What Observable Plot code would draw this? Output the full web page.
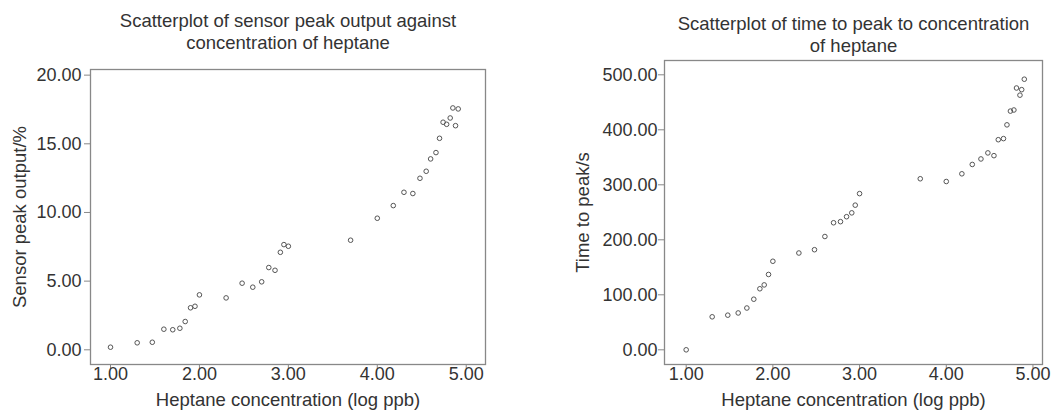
<!DOCTYPE html>
<html>
<head>
<meta charset="utf-8">
<script src="https://cdn.jsdelivr.net/npm/d3@7"></script>
<script src="https://cdn.jsdelivr.net/npm/@observablehq/plot@0.6"></script>
<style>
  html, body { margin: 0; padding: 0; background: #fff; }
  #wrap { position: relative; width: 1052px; height: 411px; overflow: hidden; }
  #wrap > svg { position: absolute; top: 0; }
  #wrap svg g[aria-label$="tick label"] { font-size: 18px; }
</style>
</head>
<body>
<div id="wrap"></div>
<script>
// Heptane concentration (log ppb) — shared x values
const concentration = [1.00, 1.30, 1.47, 1.60, 1.70, 1.78, 1.84, 1.90, 1.95, 2.00,
  2.30, 2.48, 2.60, 2.70, 2.78, 2.85, 2.91, 2.95, 3.00, 3.70,
  4.00, 4.18, 4.30, 4.40, 4.48, 4.55, 4.60, 4.66, 4.70, 4.74,
  4.78, 4.82, 4.85, 4.88, 4.91];
// Sensor peak output (%)
const peakOutput = [0.19, 0.51, 0.55, 1.50, 1.46, 1.57, 2.06, 3.06, 3.17, 4.00,
  3.78, 4.85, 4.56, 4.95, 5.99, 5.79, 7.10, 7.66, 7.54, 7.98,
  9.58, 10.50, 11.47, 11.38, 12.49, 13.00, 13.90, 14.36, 15.40, 16.57,
  16.42, 16.88, 17.61, 16.32, 17.54];

const concentration2 = [1.00, 1.30, 1.48, 1.60, 1.70, 1.78, 1.85, 1.90, 1.95, 2.00,
  2.30, 2.48, 2.60, 2.70, 2.78, 2.85, 2.91, 2.95, 3.00, 3.70,
  4.00, 4.18, 4.30, 4.40, 4.48, 4.55, 4.60, 4.66, 4.70, 4.74,
  4.78, 4.81, 4.85, 4.87, 4.90];
// Time to peak (s)
const timeToPeak = [0, 60, 63, 67, 76, 92, 111, 118, 137, 161,
  176, 182, 206, 231, 233, 242, 249, 263, 284, 311,
  306, 320, 337, 347, 358, 353, 382, 384, 409, 434,
  436, 476, 463, 473, 492];

const xTicks = [1, 2, 3, 4, 5];
const yTicks1 = [0, 5, 10, 15, 20];
const yTicks2 = [0, 100, 200, 300, 400, 500];

const title1 = "Scatterplot of sensor peak output against\nconcentration of heptane";
const title2 = "Scatterplot of time to peak to concentration\nof heptane";
const xLabel = "Heptane concentration (log ppb)";
const yLabel1 = "Sensor peak output/%";
const yLabel2 = "Time to peak/s";

const data1 = concentration.map((c, i) => ({x: c, y: peakOutput[i]}));
const data2 = concentration2.map((c, i) => ({x: c, y: timeToPeak[i]}));

const fmt = d3.format(".2f");
const FONT = "'Liberation Sans', Arial, Helvetica, sans-serif";
const TXT = "#333";

function chart({data, width, ml, mr, mt, xDomain, yDomain, yTicks, title, titleDy, yLabel, yLabelDx, yPad}) {
  return Plot.plot({
    width, height: 411,
    marginLeft: ml, marginRight: mr, marginTop: mt, marginBottom: 47,
    style: {fontFamily: FONT, fontSize: "18px", color: TXT, background: "transparent"},
    x: {domain: xDomain, label: null},
    y: {domain: yDomain, label: null},
    marks: [
      Plot.axisX({ticks: xTicks, tickFormat: fmt, tickSize: 4, tickPadding: -1, stroke: "#888", fill: TXT, fontSize: 18, label: null}),
      Plot.axisY({ticks: yTicks, tickFormat: fmt, tickSize: 6, tickPadding: yPad, stroke: "#888", fill: TXT, fontSize: 18, label: null}),
      Plot.frame({stroke: "#888", strokeWidth: 1.3}),
      Plot.dot(data, {x: "x", y: "y", r: 2.3, stroke: "#555", strokeWidth: 1, fill: "none"}),
      Plot.text([title], {frameAnchor: "top", dy: titleDy, lineAnchor: "top", lineHeight: 1.14, fontSize: 18.5, fill: TXT}),
      Plot.text([xLabel], {frameAnchor: "bottom", dy: 41, lineAnchor: "bottom", fontSize: 18.5, fill: TXT}),
      Plot.text([yLabel], {frameAnchor: "left", dx: yLabelDx, rotate: -90, textAnchor: "middle", fontSize: 18.5, fill: TXT})
    ]
  });
}

const wrap = document.getElementById("wrap");
const c1 = chart({
  data: data1, width: 520, ml: 90, mr: 35, mt: 69,
  xDomain: [0.775, 5.217], yDomain: [-1.07, 20.41], yTicks: yTicks1,
  title: title1, titleDy: -57, yLabel: yLabel1, yLabelDx: -70, yPad: 3
});
c1.style.left = "0px";
const c2 = chart({
  data: data2, width: 532, ml: 144, mr: 10, mt: 60,
  xDomain: [0.75, 5.11], yDomain: [-26.7, 526], yTicks: yTicks2,
  title: title2, titleDy: -45, yLabel: yLabel2, yLabelDx: -81, yPad: 1
});
c2.style.left = "520px";
wrap.appendChild(c1);
wrap.appendChild(c2);
</script>
</body>
</html>
